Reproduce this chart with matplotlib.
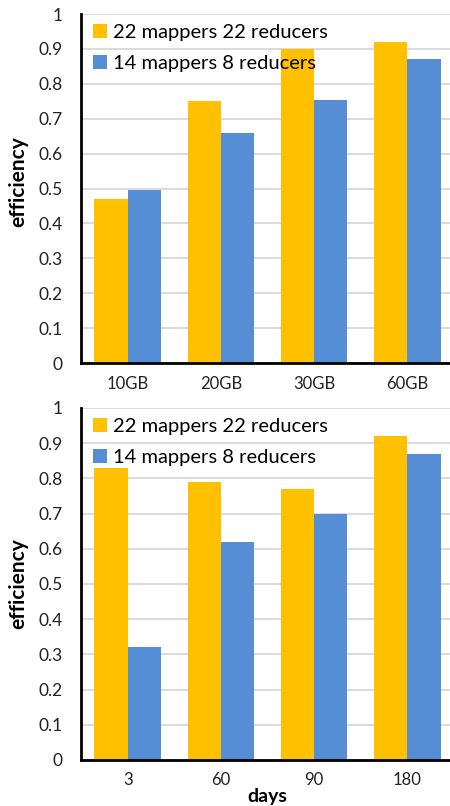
import numpy as np
import matplotlib.pyplot as plt

plt.rcParams['font.family'] = ['Lato', 'DejaVu Sans']

# efficiency vs data size
sizes = ['10GB', '20GB', '30GB', '60GB']
size_22x22 = [0.47, 0.75, 0.90, 0.92]
size_14x8 = [0.495, 0.66, 0.755, 0.87]

# efficiency vs days
days = ['3', '60', '90', '180']
days_22x22 = [0.83, 0.79, 0.77, 0.92]
days_14x8 = [0.32, 0.62, 0.70, 0.87]

series_names = ['22 mappers 22 reducers', '14 mappers 8 reducers']
yticks = [0, 0.1, 0.2, 0.3, 0.4, 0.5, 0.6, 0.7, 0.8, 0.9, 1.0]
ytick_labels = ['0', '0.1', '0.2', '0.3', '0.4', '0.5', '0.6', '0.7', '0.8', '0.9', '1']

yellow = '#FFC000'
blue = '#558ED5'

fig = plt.figure(figsize=(4.5, 8.06), dpi=100)
ax1 = fig.add_axes([0.18, 0.5496, 0.829, 0.433])
ax2 = fig.add_axes([0.18, 0.0571, 0.829, 0.4367])


def draw(ax, cats, a, b, xlabel=None, label_y=0.5):
    x = np.arange(len(cats))
    w = 0.357
    ax.bar(x - w / 2, a, w, color=yellow, label=series_names[0], zorder=2)
    ax.bar(x + w / 2, b, w, color=blue, label=series_names[1], zorder=2)
    ax.set_xlim(-0.5, len(cats) - 0.5)
    ax.set_ylim(0, 1)
    ax.set_yticks(yticks)
    ax.set_yticklabels(ytick_labels)
    ax.set_xticks(x)
    ax.set_xticklabels(cats)
    ax.tick_params(axis='y', length=0, pad=13, labelsize=12.5, labelcolor='#222222')
    ax.tick_params(axis='x', length=0, pad=9, labelsize=12, labelcolor='#222222')
    ax.yaxis.grid(True, color='#d4d4d4', linewidth=1.2, zorder=0)
    ax.set_axisbelow(True)
    for s in ['top', 'right']:
        ax.spines[s].set_visible(False)
    for s in ['left', 'bottom']:
        ax.spines[s].set_linewidth(2)
        ax.spines[s].set_color('black')
    ax.set_ylabel('efficiency', fontsize=15, fontweight='bold')
    ax.yaxis.set_label_coords(-0.142, label_y)
    if xlabel:
        ax.set_xlabel(xlabel, fontsize=14, fontweight='bold', labelpad=0)
    leg = ax.legend(loc='upper left', bbox_to_anchor=(0.01, 0.995), frameon=False,
                    fontsize=14.5, handlelength=0.7, handleheight=0.7,
                    handletextpad=0.3, labelspacing=0.7, borderaxespad=0.0)
    leg.set_zorder(5)


draw(ax1, sizes, size_22x22, size_14x8, label_y=0.52)
draw(ax2, days, days_22x22, days_14x8, xlabel='days')

fig.savefig('out.png', dpi=100)
